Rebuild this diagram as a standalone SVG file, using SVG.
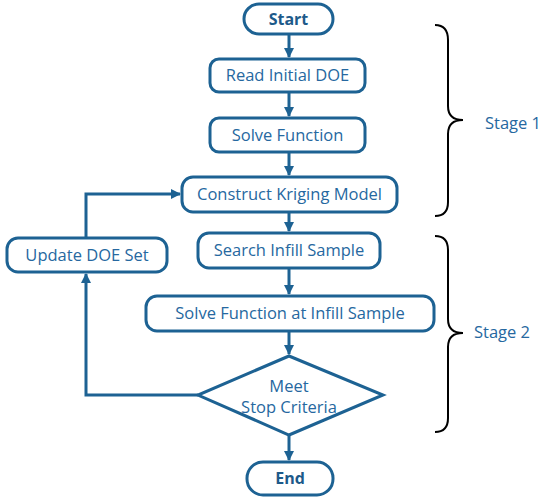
<svg xmlns="http://www.w3.org/2000/svg" width="542" height="500" viewBox="0 0 542 500">
<defs>
<style>
.box{fill:#fff;stroke:#1d6293;stroke-width:3}
.t{font-family:"Open Sans","Noto Sans",sans-serif;font-size:16.5px;fill:#2668a0;text-anchor:middle}
.b{font-weight:bold;font-size:16px;fill:#1d5a8a}
.c{fill:none;stroke:#1d6293;stroke-width:3}
.br{fill:none;stroke:#000;stroke-width:2}
</style>
<marker id="ah" viewBox="0 0 10 10" refX="9" refY="5" markerWidth="10" markerHeight="10" markerUnits="userSpaceOnUse" orient="auto">
<path d="M0,0 L10,5 L0,10 Z" fill="#1d6293"/>
</marker>
</defs>
<rect width="542" height="500" fill="#fff"/>
<g id="connectors">
<line class="c" x1="289" y1="34" x2="289" y2="57" marker-end="url(#ah)"/>
<line class="c" x1="289" y1="92" x2="289" y2="116" marker-end="url(#ah)"/>
<line class="c" x1="289" y1="152" x2="289" y2="175" marker-end="url(#ah)"/>
<line class="c" x1="289" y1="212" x2="289" y2="231" marker-end="url(#ah)"/>
<line class="c" x1="289" y1="268" x2="289" y2="294" marker-end="url(#ah)"/>
<line class="c" x1="289" y1="331" x2="289" y2="354" marker-end="url(#ah)"/>
<line class="c" x1="289" y1="435" x2="289" y2="460" marker-end="url(#ah)"/>
<polyline class="c" points="198,395 86,395 86,274" marker-end="url(#ah)"/>
<polyline class="c" points="86,238 86,194 180,194" marker-end="url(#ah)"/>
</g>
<g id="start"><rect class="box" x="244" y="4" width="89" height="30" rx="15"/><text class="t b" x="288.5" y="25">Start</text></g>
<g id="read"><rect class="box" x="210" y="59" width="155" height="33" rx="9"/><text class="t" x="287.5" y="81">Read Initial DOE</text></g>
<g id="solve"><rect class="box" x="210" y="118" width="155" height="34" rx="9"/><text class="t" x="287.5" y="141">Solve Function</text></g>
<g id="kriging"><rect class="box" x="182" y="177" width="215" height="35" rx="11"/><text class="t" x="289.5" y="200">Construct Kriging Model</text></g>
<g id="search"><rect class="box" x="198" y="233" width="182" height="35" rx="11"/><text class="t" x="289" y="256">Search Infill Sample</text></g>
<g id="update"><rect class="box" x="7" y="238" width="160" height="34" rx="11"/><text class="t" x="87" y="261">Update DOE Set</text></g>
<g id="solveinfill"><rect class="box" x="146" y="296" width="288" height="35" rx="11"/><text class="t" x="290" y="319">Solve Function at Infill Sample</text></g>
<g id="criteria"><polygon class="box" points="289,356 383,395 289,435 198,395"/><text class="t" x="289" y="392">Meet</text><text class="t" x="289" y="413">Stop Criteria</text></g>
<g id="end"><rect class="box" x="247" y="462" width="86" height="33" rx="16"/><text class="t b" x="290" y="484">End</text></g>
<g id="stage1"><path class="br" d="M435,25 Q448,25 448,40 L448,106 Q448,120 463,120 Q448,120 448,134 L448,202 Q448,216 435,216"/><text class="t" x="513" y="129">Stage 1</text></g>
<g id="stage2"><path class="br" d="M435,236 Q448,236 448,250 L448,319 Q448,333 463,333 Q448,333 448,347 L448,418 Q448,432 435,432"/><text class="t" x="502" y="338">Stage 2</text></g>
</svg>
